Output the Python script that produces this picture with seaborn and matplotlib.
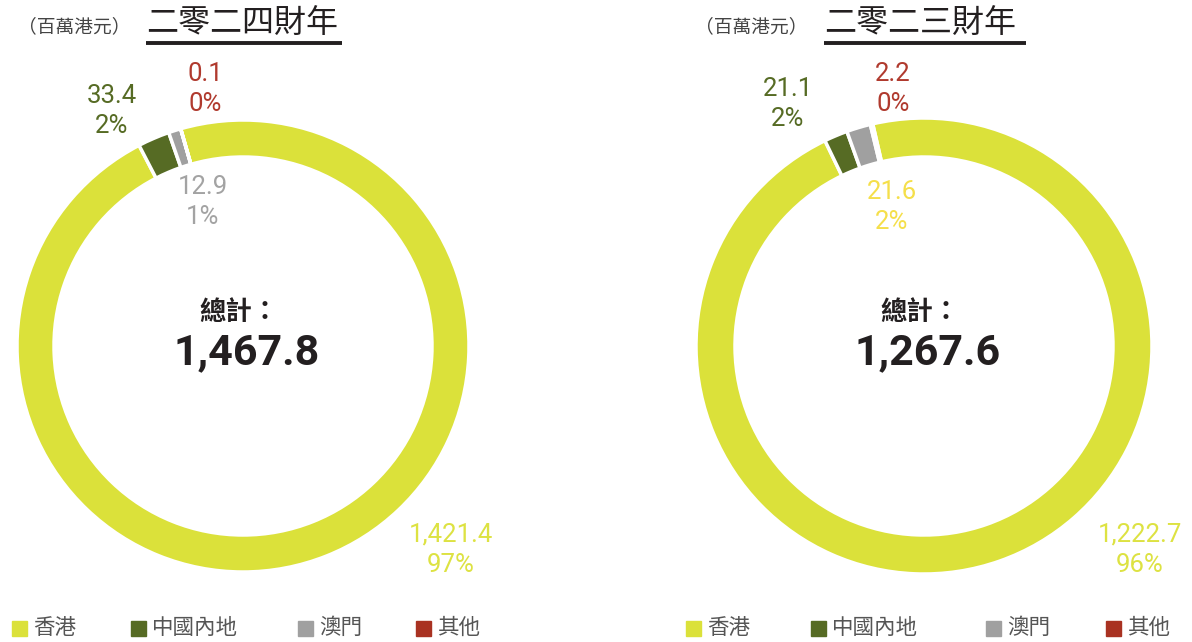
import matplotlib
matplotlib.use("Agg")
import matplotlib.pyplot as plt
import seaborn as sns
from matplotlib.patches import Rectangle
from matplotlib.lines import Line2D

sns.set_theme(style="white")
plt.rcParams['font.family'] = ['Roboto', 'Noto Sans CJK TC', 'DejaVu Sans']

# 資料
categories = ['香港', '中國內地', '澳門', '其他']
values_2024 = [1421.4, 33.4, 12.9, 0.1]
values_2023 = [1222.7, 21.1, 21.6, 2.2]
pct_2024 = ['97%', '2%', '1%', '0%']
pct_2023 = ['96%', '2%', '2%', '0%']
totals = ['1,467.8', '1,267.6']
titles = ['二零二四財年', '二零二三財年']
unit = '（百萬港元）'

colors = ['#dbe13a', '#566b24', '#a0a0a0', '#a93222']
label_colors_2024 = ['#dde242', '#566b24', '#a3a3a3', '#b03a2e']
label_colors_2023 = ['#dde242', '#566b24', '#f5df4a', '#b03a2e']

W, H = 1192, 642
fig = plt.figure(figsize=(W / 100, H / 100), dpi=100)


def fx(x):
    return x / W


def fy(y):
    return 1 - y / H


def donut(cx, cy, r, ring, vals, start):
    ax = fig.add_axes([fx(cx - r), fy(cy + r), 2 * r / W, 2 * r / H])
    ax.pie(vals, colors=colors, startangle=start, counterclock=False,
           radius=1, wedgeprops=dict(width=ring / r, edgecolor='white', linewidth=2.5))
    ax.set_xlim(-1, 1)
    ax.set_ylim(-1, 1)
    ax.set_aspect('equal')
    ax.axis('off')
    return ax


donut(243, 346, 226, 37, values_2024, 106)
donut(924, 346, 228, 39, values_2023, 103)

# 標題
cjk = ['Noto Sans CJK TC', 'DejaVu Sans']
for (ux, tx, tx2), t in zip([(74, 146, 342), (751, 824, 1026)], titles):
    fig.text(fx(ux), fy(27), unit, family=cjk, fontsize=13.5, color='#444444',
             ha='center', va='center')
    fig.text(fx(tx), fy(24), t, family=cjk, fontsize=23, fontweight='medium',
             color='#231f20', ha='left', va='center')
    fig.add_artist(Line2D([fx(tx), fx(tx2)], [fy(42.5), fy(42.5)], color='#231f20',
                          linewidth=2.8, solid_capstyle='butt'))

# 數據標籤
pos_2024 = [(451, 550), (112, 111), (203, 202), (205, 89)]
pos_2023 = [(1140, 550), (788, 104), (892, 207), (893, 89)]
for vals, pcts, pos, lcols in [(values_2024, pct_2024, pos_2024, label_colors_2024),
                               (values_2023, pct_2023, pos_2023, label_colors_2023)]:
    for v, p, (x, y), c in zip(vals, pcts, pos, lcols):
        fig.text(fx(x), fy(y), f'{v:,.1f}\n{p}', fontsize=18.5, color=c,
                 ha='center', va='center', linespacing=1.35)

# 總計
for cx, tot in zip([243, 924], totals):
    fig.text(fx(cx - 4), fy(313), '總計：', family=cjk, fontsize=19, fontweight='bold',
             color='#231f20', ha='center', va='center')
    fig.text(fx(cx + 4), fy(353), tot, fontsize=31, fontweight='bold',
             color='#231f20', ha='center', va='center')

# 圖例
legend_x = [[12, 131, 298, 416], [686, 811, 986, 1106]]
for xs in legend_x:
    for x, cat, col in zip(xs, categories, colors):
        fig.add_artist(Rectangle((fx(x), fy(636)), 15 / W, 15 / H, color=col,
                                 transform=fig.transFigure))
        fig.text(fx(x + 21), fy(628), cat, family=cjk, fontsize=15.5, color='#555555',
                 ha='left', va='center')

fig.savefig('out.png', dpi=100)
